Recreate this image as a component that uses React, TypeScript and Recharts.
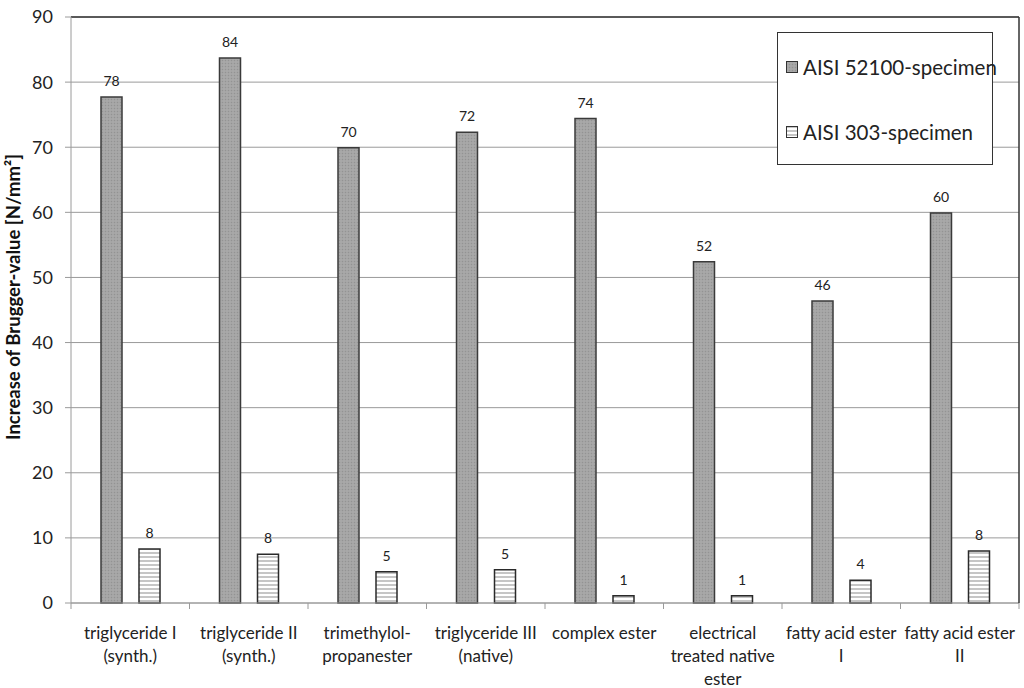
import React from 'react';
import { BarChart, Bar, XAxis, YAxis, CartesianGrid, LabelList, Legend, ReferenceLine } from 'recharts';

const categories = [
  'triglyceride I\n(synth.)',
  'triglyceride II\n(synth.)',
  'trimethylol-\npropanester',
  'triglyceride III\n(native)',
  'complex ester',
  'electrical\ntreated native\nester',
  'fatty acid ester\nI',
  'fatty acid ester\nII',
];
const aisi52100 = [77.7, 83.7, 69.9, 72.3, 74.4, 52.4, 46.4, 59.9];
const aisi303 = [8.3, 7.5, 4.8, 5.1, 1.1, 1.1, 3.5, 8.0];
const yTicks = [0, 10, 20, 30, 40, 50, 60, 70, 80, 90];
const seriesNames = ['AISI 52100-specimen', 'AISI 303-specimen'];
const yTitle = 'Increase of Brugger-value [N/mm²]';

const data = categories.map((c, i) => ({ name: c, a: aisi52100[i], b: aisi303[i] }));

const W = 1024;
const H = 688;
const MARGIN = { top: 17, right: 4, bottom: 0, left: 0 };
const Y_AXIS_W = 71;
const RIGHT_AXIS_W = 1;
const X_AXIS_H = 85;
const PLOT_W = W - MARGIN.left - MARGIN.right - Y_AXIS_W - RIGHT_AXIS_W;
const BAND = PLOT_W / categories.length;
const FONT = 'Lato, "Open Sans", sans-serif';

const XTick = (props: any) => {
  const { x, y, payload } = props;
  const idx = payload && payload.index !== undefined ? payload.index : props.index;
  const lines = String(payload.value).split('\n');
  const half = BAND / 2;
  return (
    <g>
      <line x1={x - half} x2={x - half} y1={y} y2={y + 6} stroke="#9a9a9a" strokeWidth={1} />
      {idx === categories.length - 1 && (
        <line x1={x + half} x2={x + half} y1={y} y2={y + 6} stroke="#9a9a9a" strokeWidth={1} />
      )}
      <text x={x} y={y} textAnchor="middle" fontSize={17} fill="#222" fontFamily={FONT}>
        {lines.map((l, i) => (
          <tspan key={i} x={x} dy={i === 0 ? 36 : 23}>
            {l}
          </tspan>
        ))}
      </text>
    </g>
  );
};

const YTitle = () => {
  const cx = 13;
  const cy = 297;
  return (
    <text
      x={cx}
      y={cy}
      transform={`rotate(-90 ${cx} ${cy})`}
      textAnchor="middle"
      dominantBaseline="central"
      fontSize={18.5}
      fontWeight="bold"
      fill="#111"
      fontFamily={FONT}
    >
      {yTitle}
    </text>
  );
};

const LegendBox = () => (
  <div
    style={{
      width: 216,
      height: 133,
      border: '1.5px solid #333',
      background: '#fff',
      boxSizing: 'border-box',
      position: 'relative',
      fontFamily: FONT,
      fontSize: 20.5,
      color: '#222',
    }}
  >
    {seriesNames.map((n, i) => (
      <div
        key={n}
        style={{
          position: 'absolute',
          left: 8,
          top: i === 0 ? 20 : 85,
          height: 28,
          display: 'flex',
          alignItems: 'center',
          whiteSpace: 'nowrap',
        }}
      >
        <svg width={12} height={12} style={{ marginRight: 5 }}>
          <rect x={0.5} y={0.5} width={11} height={11} fill={i === 0 ? 'url(#darkFill)' : 'url(#stripeFill)'} stroke="#333" strokeWidth={1} />
        </svg>
        <span>{n}</span>
      </div>
    ))}
  </div>
);

export default function App() {
  return (
    <div style={{ position: 'absolute', left: 0, top: 0, width: W, height: H, background: '#fff' }}>
      <BarChart
        width={W}
        height={H}
        data={data}
        margin={MARGIN}
        barSize={21}
        barGap={17}
      >
        <defs>
          <pattern id="darkFill" width="3" height="3" patternUnits="userSpaceOnUse">
            <rect width="3" height="3" fill="#a4a4a4" />
            <rect x="0" y="0" width="1" height="1" fill="#939393" />
            <rect x="1.5" y="1.5" width="1" height="1" fill="#b4b4b4" />
          </pattern>
          <pattern id="stripeFill" width="4" height="4" patternUnits="userSpaceOnUse">
            <rect width="4" height="4" fill="#ffffff" />
            <rect y="0" width="4" height="2" fill="#c6c6c6" />
          </pattern>
        </defs>
        <CartesianGrid yAxisId="left" vertical={false} stroke="#9a9a9a" strokeWidth={1} />
        <XAxis
          dataKey="name"
          interval={0}
          height={X_AXIS_H}
          tickLine={false}
          tickSize={0}
          tickMargin={0}
          axisLine={{ stroke: '#9a9a9a' }}
          tick={<XTick />}
        />
        <YAxis
          yAxisId="left"
          width={Y_AXIS_W}
          domain={[0, 90]}
          ticks={yTicks}
          interval={0}
          tickSize={6}
          tickMargin={12}
          tickLine={{ stroke: '#9a9a9a' }}
          axisLine={{ stroke: '#9a9a9a' }}
          tick={{ fontSize: 18, fill: '#222', fontFamily: FONT }}
          label={<YTitle />}
        />
        <YAxis
          yAxisId="right"
          orientation="right"
          width={RIGHT_AXIS_W}
          domain={[0, 90]}
          tick={false}
          tickLine={false}
          axisLine={{ stroke: '#333', strokeWidth: 1.5 }}
        />
        <Legend
          layout="horizontal"
          verticalAlign="middle"
          align="center"
          content={<LegendBox />}
          wrapperStyle={{ left: 777, top: 32, width: 216, height: 133 }}
        />
        <Bar yAxisId="left" dataKey="a" name={seriesNames[0]} fill="url(#darkFill)" stroke="#3a3a3a" strokeWidth={1.5} isAnimationActive={false}>
          <LabelList
            dataKey="a"
            position="top"
            offset={11}
            formatter={(v: any) => Math.round(Number(v))}
            style={{ fontSize: 14, fill: '#222', fontFamily: FONT }}
          />
        </Bar>
        <Bar yAxisId="left" dataKey="b" name={seriesNames[1]} fill="url(#stripeFill)" stroke="#2a2a2a" strokeWidth={1.5} isAnimationActive={false}>
          <LabelList
            dataKey="b"
            position="top"
            offset={11}
            formatter={(v: any) => Math.round(Number(v))}
            style={{ fontSize: 14, fill: '#222', fontFamily: FONT }}
          />
        </Bar>
        <ReferenceLine yAxisId="left" y={90} stroke="#333" strokeWidth={1.5} />
      </BarChart>
    </div>
  );
}
